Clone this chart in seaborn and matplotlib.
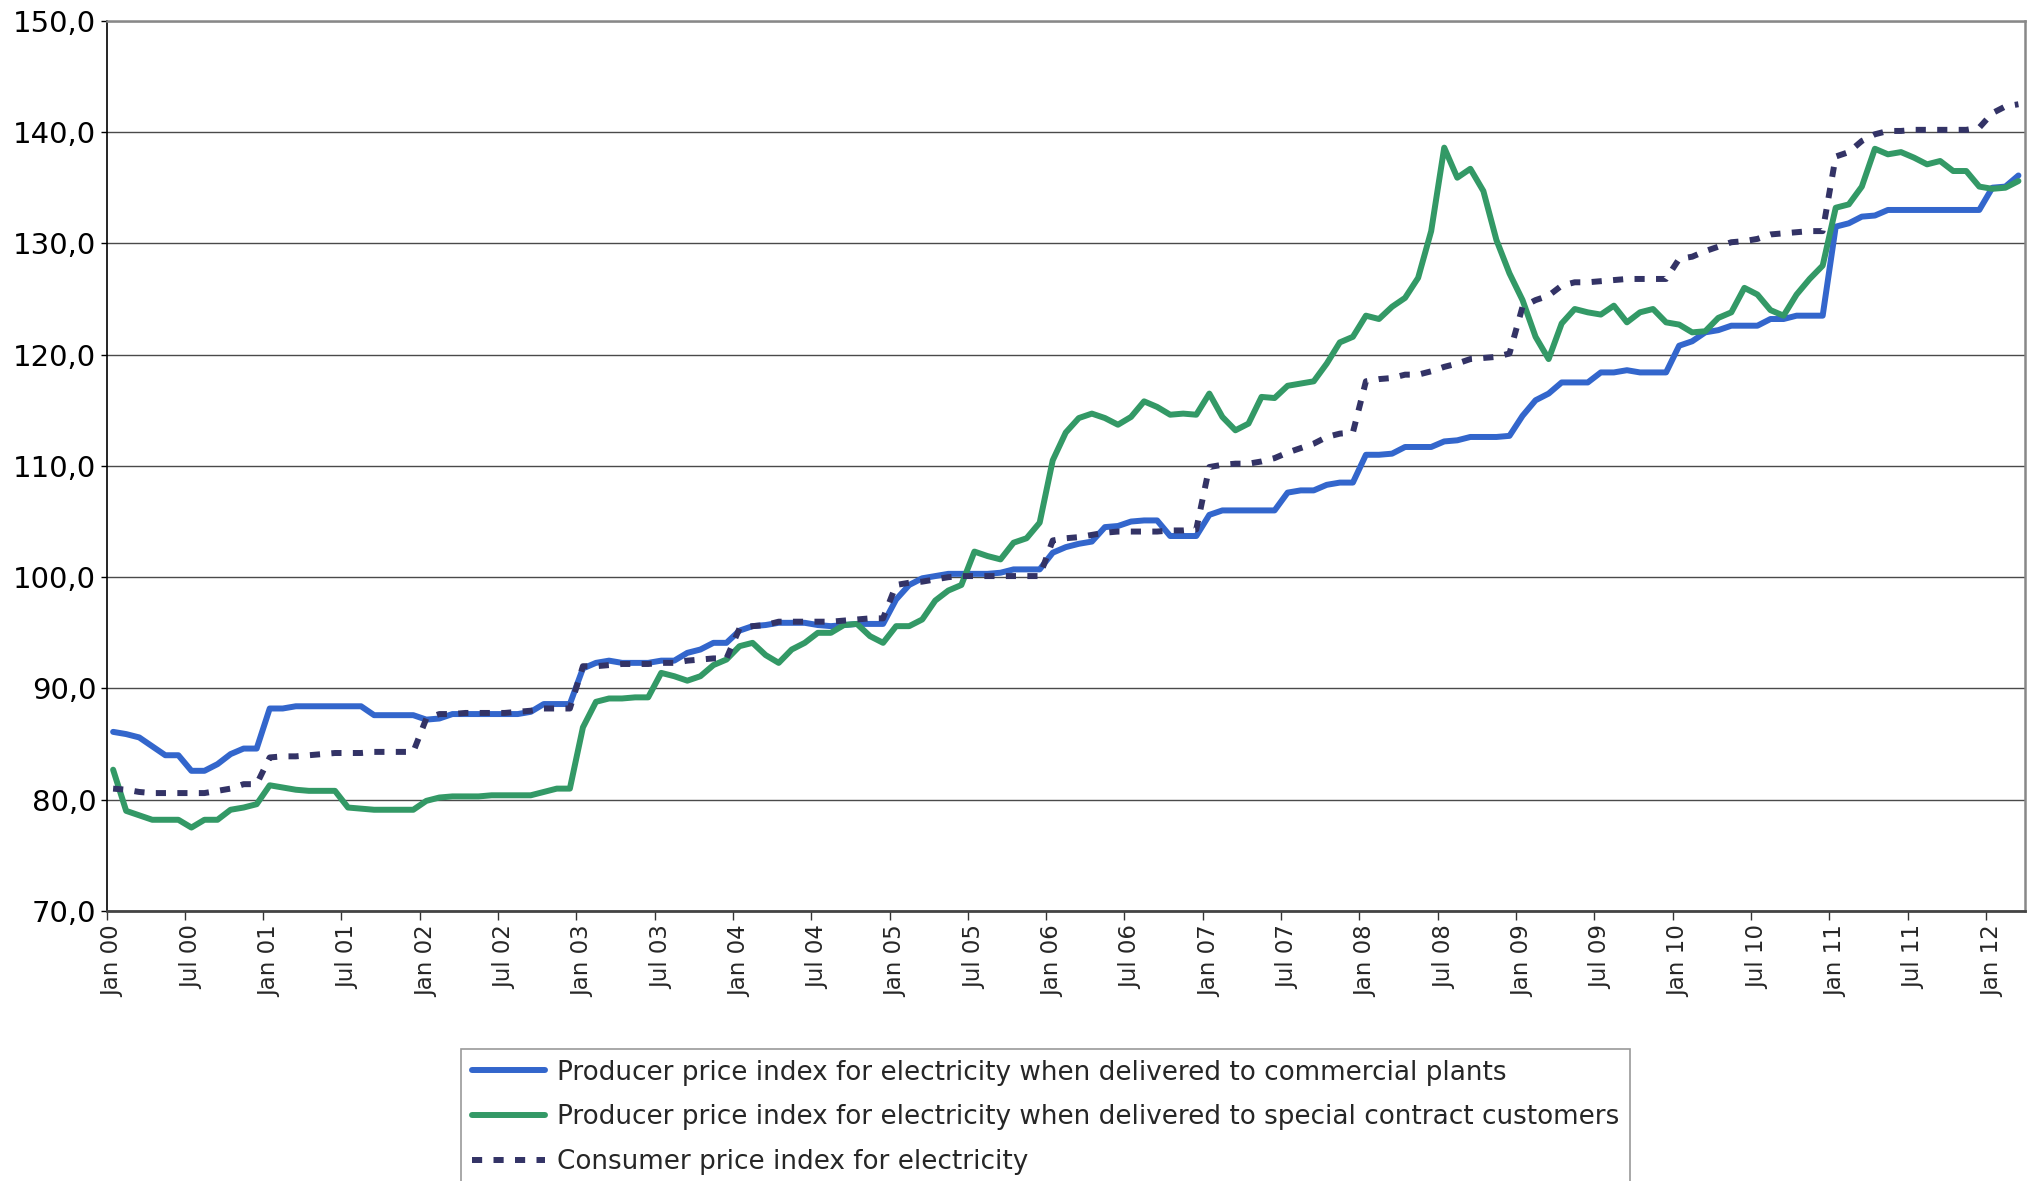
import matplotlib
matplotlib.use("Agg")
import matplotlib.pyplot as plt
from matplotlib.ticker import FixedLocator, FuncFormatter
import seaborn as sns
import pandas as pd

# monthly, Jan 2000 - Mar 2012
months = pd.period_range("2000-01", "2012-03", freq="M")

commercial = [
    86.1, 85.9, 85.6, 84.8, 84.0, 84.0, 82.6, 82.6, 83.2, 84.1, 84.6, 84.6,
    88.2, 88.2, 88.4, 88.4, 88.4, 88.4, 88.4, 88.4, 87.6, 87.6, 87.6, 87.6,
    87.2, 87.3, 87.7, 87.7, 87.7, 87.7, 87.7, 87.7, 87.9, 88.6, 88.6, 88.6,
    91.8, 92.3, 92.5, 92.3, 92.3, 92.3, 92.5, 92.5, 93.2, 93.5, 94.1, 94.1,
    95.2, 95.6, 95.7, 95.9, 95.9, 95.9, 95.7, 95.6, 95.7, 95.8, 95.8, 95.8,
    98.0, 99.3, 99.9, 100.1, 100.3, 100.3, 100.3, 100.3, 100.4, 100.7, 100.7, 100.7,
    102.2, 102.7, 103.0, 103.2, 104.5, 104.6, 105.0, 105.1, 105.1, 103.7, 103.7, 103.7,
    105.6, 106.0, 106.0, 106.0, 106.0, 106.0, 107.6, 107.8, 107.8, 108.3, 108.5, 108.5,
    111.0, 111.0, 111.1, 111.7, 111.7, 111.7, 112.2, 112.3, 112.6, 112.6, 112.6, 112.7,
    114.5, 115.9, 116.5, 117.5, 117.5, 117.5, 118.4, 118.4, 118.6, 118.4, 118.4, 118.4,
    120.8, 121.2, 122.0, 122.2, 122.6, 122.6, 122.6, 123.2, 123.2, 123.5, 123.5, 123.5,
    131.5, 131.8, 132.4, 132.5, 133.0, 133.0, 133.0, 133.0, 133.0, 133.0, 133.0, 133.0,
    135.0, 135.1, 136.1,
]

special_contract = [
    82.7, 79.0, 78.6, 78.2, 78.2, 78.2, 77.5, 78.2, 78.2, 79.1, 79.3, 79.6,
    81.3, 81.1, 80.9, 80.8, 80.8, 80.8, 79.3, 79.2, 79.1, 79.1, 79.1, 79.1,
    79.9, 80.2, 80.3, 80.3, 80.3, 80.4, 80.4, 80.4, 80.4, 80.7, 81.0, 81.0,
    86.5, 88.8, 89.1, 89.1, 89.2, 89.2, 91.4, 91.1, 90.7, 91.1, 92.1, 92.6,
    93.8, 94.1, 93.0, 92.3, 93.5, 94.1, 95.0, 95.0, 95.7, 95.8, 94.7, 94.1,
    95.6, 95.6, 96.2, 97.9, 98.8, 99.3, 102.3, 101.9, 101.6, 103.1, 103.5, 104.9,
    110.5, 113.0, 114.3, 114.7, 114.3, 113.7, 114.4, 115.8, 115.3, 114.6, 114.7, 114.6,
    116.5, 114.4, 113.2, 113.8, 116.2, 116.1, 117.2, 117.4, 117.6, 119.2, 121.1, 121.6,
    123.5, 123.2, 124.3, 125.1, 126.9, 131.1, 138.6, 135.9, 136.7, 134.7, 130.3, 127.3,
    124.9, 121.6, 119.6, 122.8, 124.1, 123.8, 123.6, 124.4, 122.9, 123.8, 124.1, 122.9,
    122.7, 122.0, 122.1, 123.3, 123.8, 126.0, 125.4, 124.0, 123.5, 125.4, 126.8, 128.0,
    133.2, 133.5, 135.1, 138.5, 138.0, 138.2, 137.7, 137.1, 137.4, 136.5, 136.5, 135.1,
    134.9, 135.0, 135.6,
]

cpi = [
    81.0, 80.9, 80.7, 80.6, 80.6, 80.6, 80.6, 80.6, 80.8, 81.0, 81.4, 81.4,
    83.8, 83.9, 83.9, 84.0, 84.1, 84.2, 84.2, 84.2, 84.3, 84.3, 84.3, 84.3,
    87.3, 87.7, 87.7, 87.8, 87.8, 87.8, 87.8, 87.9, 88.0, 88.2, 88.2, 88.2,
    92.0, 92.0, 92.1, 92.2, 92.2, 92.2, 92.3, 92.3, 92.5, 92.6, 92.7, 92.7,
    95.4, 95.6, 95.7, 96.0, 96.0, 96.0, 96.0, 96.0, 96.1, 96.2, 96.3, 96.3,
    99.3, 99.5, 99.6, 99.8, 100.0, 100.1, 100.1, 100.1, 100.1, 100.1, 100.1, 100.1,
    103.3, 103.5, 103.6, 103.8, 104.0, 104.1, 104.1, 104.1, 104.1, 104.2, 104.2, 104.3,
    109.9, 110.1, 110.2, 110.2, 110.4, 110.7, 111.2, 111.6, 112.0, 112.6, 112.9, 113.0,
    117.6, 117.8, 117.9, 118.2, 118.2, 118.5, 118.9, 119.2, 119.6, 119.7, 119.8, 120.1,
    124.3, 124.9, 125.3, 126.2, 126.5, 126.5, 126.6, 126.7, 126.8, 126.8, 126.8, 126.8,
    128.6, 128.8, 129.3, 129.7, 130.1, 130.2, 130.4, 130.8, 130.9, 131.0, 131.1, 131.1,
    137.8, 138.2, 139.2, 139.8, 140.1, 140.1, 140.2, 140.2, 140.2, 140.2, 140.2, 140.4,
    141.7, 142.3, 142.5,
]

labels = [
    "Producer price index for electricity when delivered to commercial plants",
    "Producer price index for electricity when delivered to special contract customers",
    "Consumer price index for electricity",
]
colors = ["#3366CC", "#339966", "#333366"]

# every 6th month gets a label, e.g. "Jan 00", "Jul 00"
tick_pos = list(range(0, len(months), 6))[:25]
tick_labels = [months[i].strftime("%b %y") for i in tick_pos]

sns.set_theme(style="ticks")
plt.rcParams["font.family"] = ["DejaVu Sans"]

fig = plt.figure(figsize=(20.38, 11.81), dpi=100)
ax = fig.add_axes([0.0523, 0.2286, 0.9413, 0.7538])

idx = list(range(len(months)))
for series, lab, col in zip([commercial, special_contract, cpi], labels, colors):
    df = pd.DataFrame({"month": idx, "index": series})
    sns.lineplot(data=df, x="month", y="index", color=col, lw=4.3,
                 label=lab, ax=ax, errorbar=None)
ax.lines[2].set_dashes([1.7, 1.9])
ax.lines[2].set_dash_capstyle("butt")

ax.set_xlim(-0.5, len(months) - 0.5)
ax.set_ylim(70, 150)
ax.set_xlabel("")
ax.set_ylabel("")

# y axis
ax.set_yticks(range(70, 151, 10))
ax.yaxis.set_major_formatter(FuncFormatter(lambda v, p: f"{v:.1f}".replace(".", ",")))
ax.yaxis.grid(True, color="#4a4a4a", lw=1.0)
ax.tick_params(axis="y", labelsize=21, length=4.5, width=1.0, pad=3, colors="black")

# x axis: labels on category, tick marks between categories
ax.set_xticks(tick_pos)
ax.set_xticklabels(tick_labels, rotation=90, ha="center", va="top")
ax.xaxis.set_minor_locator(FixedLocator([p - 0.5 for p in tick_pos]))
ax.tick_params(axis="x", which="major", length=0, pad=10, labelsize=16.5)
ax.tick_params(axis="x", which="minor", length=6.5, width=1.0, color="#333333")

for side in ["top", "right"]:
    ax.spines[side].set_visible(True)
    ax.spines[side].set_color("#888888")
    ax.spines[side].set_linewidth(1.8)
ax.spines["left"].set_color("black")
ax.spines["left"].set_linewidth(1.2)
ax.spines["bottom"].set_color("#444444")
ax.spines["bottom"].set_linewidth(2.0)

handles, labs = ax.get_legend_handles_labels()
ax.get_legend().remove()
leg = fig.legend(handles, labs, loc="upper left",
                 bbox_to_anchor=(461 / 2038, 1 - 1049 / 1181),
                 fontsize=18.9, frameon=True, fancybox=False, shadow=False,
                 handlelength=2.8, handletextpad=0.45, labelspacing=0.72,
                 borderpad=0.4, borderaxespad=0)
leg.get_frame().set_edgecolor("#808080")
leg.get_frame().set_linewidth(1.2)

fig.savefig("out.png", dpi=100, facecolor="white")
